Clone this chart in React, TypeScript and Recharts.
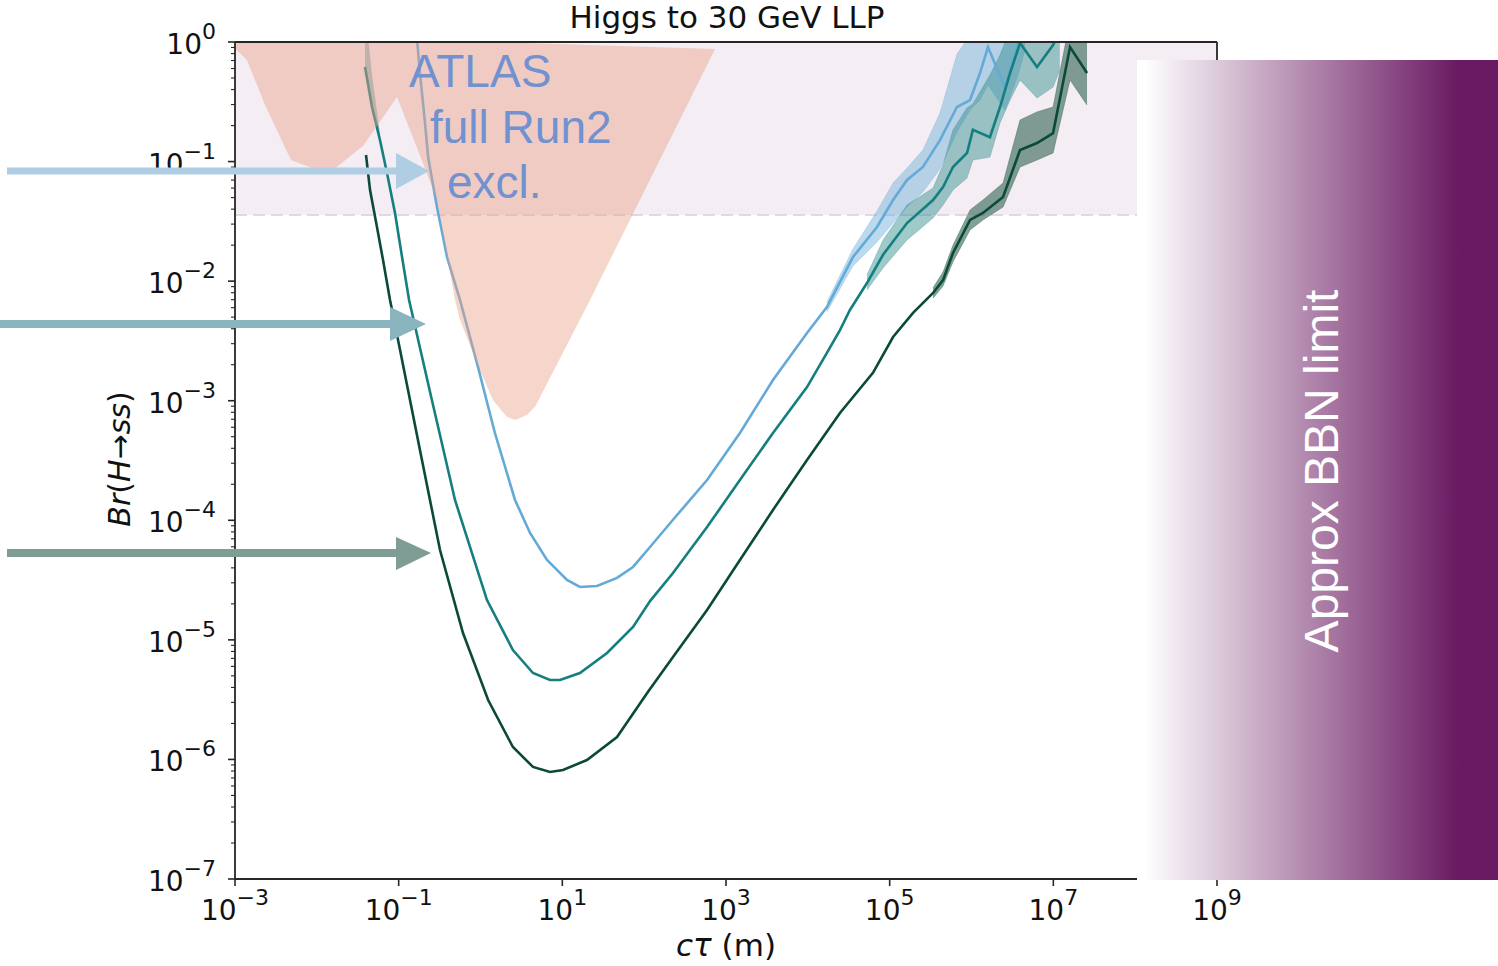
import React from 'react';
import {
  Area,
  ComposedChart,
  Line,
  ReferenceArea,
  ReferenceLine,
  XAxis,
  YAxis,
} from 'recharts';

// ATLAS full Run2 exclusion (pink region): lower outline and top edge
const atlasCtau = [6.37e-4, 1.4e-3, 2.33e-3, 4.83e-3, 0.0137, 0.0366, 0.0955, 0.198, 0.294, 0.488, 0.562, 0.906, 1.42, 2.11, 2.64, 3.7, 4.63, 21.8, 735];
const atlasLow = [1.19, 0.707, 0.297, 0.103, 0.0787, 0.135, 0.347, 0.0973, 0.0477, 6.95e-3, 4.73e-3, 2.07e-3, 1.01e-3, 7.31e-4, 6.9e-4, 7.59e-4, 8.85e-4, 6.95e-3, 0.874];
const atlasHigh = [1.19, 1.169, 1.155, 1.138, 1.112, 1.088, 1.066, 1.047, 1.039, 1.027, 1.023, 1.014, 1.004, 0.994, 0.988, 0.983, 0.977, 0.944, 0.874];

// light blue curve
const lightCtau = [0.158, 0.168, 0.182, 0.21, 0.229, 0.294, 0.39, 0.562, 0.933, 1.5, 2.64, 4.03, 6.5, 11.4, 16.4, 26.5, 46.6, 73.1, 118, 225, 587, 1480, 3750, 9770, 1.71e4, 3.56e4, 7.0e4, 1.1e5, 1.63e5, 2.55e5, 4.12e5, 6.65e5, 9.6e5, 1.27e6, 1.59e6, 2.57e6, 3.71e6, 4.51e6];
const lightBr = [1.39, 1.04, 0.55, 0.21, 0.109, 0.0417, 0.0159, 6.95e-3, 1.91e-3, 5.37e-4, 1.48e-4, 7.83e-5, 4.66e-5, 3.17e-5, 2.77e-5, 2.82e-5, 3.3e-5, 4.07e-5, 5.98e-5, 1.01e-4, 2.17e-4, 5.37e-4, 1.49e-3, 3.68e-3, 6.08e-3, 0.0159, 0.0284, 0.0477, 0.0702, 0.0901, 0.151, 0.286, 0.327, 0.55, 0.908, 0.412, 1.0, 1.53];
const lightBandCtau = [1.71e4, 3.56e4, 7.0e4, 1.1e5, 1.63e5, 2.55e5, 4.12e5, 6.65e5, 9.6e5, 1.27e6, 1.59e6, 2.57e6, 3.71e6, 4.51e6];
const lightBandLo = [5.52e-3, 0.0134, 0.0212, 0.0306, 0.0417, 0.0557, 0.0867, 0.177, 0.27, 0.327, 0.437, 0.27, 0.53, 0.857];
const lightBandHi = [6.7e-3, 0.0186, 0.0386, 0.0662, 0.0883, 0.125, 0.255, 0.794, 1.14, 1.53, 1.85, 1.85, 1.85, 2.25];

// teal curve
const tealCtau = [0.0388, 0.0472, 0.0592, 0.072, 0.0902, 0.11, 0.134, 0.255, 0.488, 1.2, 2.49, 4.38, 7.07, 9.37, 16.4, 35.2, 73.1, 118, 225, 587, 1480, 3750, 9770, 1.71e4, 2.47e4, 3.27e4, 5.28e4, 8.3e4, 1.63e5, 3.39e5, 4.49e5, 5.94e5, 8.81e5, 1.04e6, 1.68e6, 2.23e6, 2.96e6, 3.92e6, 6.32e6, 9.93e6, 1.2e7];
const tealBr = [0.618, 0.286, 0.151, 0.0802, 0.0372, 0.0159, 6.95e-3, 1.01e-3, 1.48e-4, 2.15e-5, 8.22e-6, 5.28e-6, 4.62e-6, 4.62e-6, 5.28e-6, 7.76e-6, 1.28e-5, 2.11e-5, 3.62e-5, 8.79e-5, 2.17e-4, 5.37e-4, 1.3e-3, 2.51e-3, 3.9e-3, 5.74e-3, 9.64e-3, 0.0166, 0.0306, 0.0477, 0.0613, 0.0901, 0.118, 0.184, 0.16, 0.286, 0.55, 0.98, 0.618, 0.944, 1.26];
const tealEdgeCtau = [0.0388, 0.0472, 0.0592];
const tealEdgeLo = [0.618, 0.286, 0.151];
const tealEdgeHi = [2.0, 0.53, 0.17];
const tealBandCtau = [5.28e4, 8.3e4, 1.63e5, 3.39e5, 4.49e5, 5.94e5, 8.81e5, 1.04e6, 1.68e6, 2.23e6, 2.96e6, 3.92e6, 6.32e6, 9.93e6, 1.2e7];
const tealBandLo = [8.43e-3, 0.0129, 0.0221, 0.0337, 0.0433, 0.0578, 0.0729, 0.103, 0.109, 0.21, 0.327, 0.481, 0.34, 0.42, 0.583];
const tealBandHi = [0.01125, 0.0221, 0.0433, 0.0601, 0.0936, 0.184, 0.281, 0.303, 0.53, 0.778, 1.26, 1.85, 1.85, 1.85, 2.25];

// dark green curve
const darkCtau = [0.0399, 0.0447, 0.0543, 0.0644, 0.0784, 0.104, 0.182, 0.32, 0.611, 1.24, 2.49, 4.38, 7.07, 10.2, 20.0, 46.6, 111, 225, 587, 1480, 3750, 9770, 2.47e4, 6.25e4, 1.1e5, 1.93e5, 3.39e5, 4.49e5, 5.94e5, 9.6e5, 1.38e6, 2.43e6, 3.92e6, 6.32e6, 9.93e6, 1.6e7, 2.58e7];
const darkBr = [0.1135, 0.0578, 0.0284, 0.015, 6.95e-3, 2.65e-3, 3.87e-4, 5.64e-5, 1.14e-5, 3.14e-6, 1.27e-6, 8.65e-7, 7.85e-7, 8.16e-7, 9.89e-7, 1.54e-6, 3.66e-6, 7.19e-6, 1.78e-5, 4.66e-5, 1.22e-4, 3.19e-4, 7.89e-4, 1.71e-3, 3.41e-3, 5.42e-3, 7.96e-3, 0.0102, 0.0172, 0.0325, 0.0372, 0.0506, 0.125, 0.143, 0.173, 0.908, 0.551];
const darkBandCtau = [3.39e5, 4.49e5, 5.94e5, 9.6e5, 1.38e6, 2.43e6, 3.92e6, 6.32e6, 9.93e6, 1.6e7, 2.58e7];
const darkBandLo = [7.2e-3, 9.1e-3, 0.0145, 0.0268, 0.0325, 0.0417, 0.0901, 0.103, 0.118, 0.481, 0.297];
const darkBandHi = [8.8e-3, 0.0119, 0.02, 0.0394, 0.0477, 0.0662, 0.223, 0.26, 0.286, 1.53, 1.53];

const bbnBr = 0.0357;

const xTicks = [1e-3, 1e-1, 1e1, 1e3, 1e5, 1e7, 1e9];
const yMajor = [1e-7, 1e-6, 1e-5, 1e-4, 1e-3, 1e-2, 1e-1, 1];
const minorSteps = [2, 3, 4, 5, 6, 7, 8, 9];
const yTicks = [
  ...yMajor,
  ...yMajor.slice(0, -1).flatMap((d) => minorSteps.map((m) => m * d)),
].sort((a, b) => a - b);

const toLine = (xs: number[], ys: number[]) => xs.map((x, i) => ({ x, y: ys[i] }));
const toBand = (xs: number[], lo: number[], hi: number[]) =>
  xs.map((x, i) => ({ x, range: [lo[i], hi[i]] }));

const FONT = 'DejaVu Sans';
const AXIS = '#262626';

function expOf(v: number) {
  const e = Math.round(Math.log10(v));
  return e < 0 ? `\u2212${-e}` : `${e}`;
}

function YTick({ x, y, payload }: any) {
  const v = payload.value;
  const l = Math.log10(v);
  const major = Math.abs(l - Math.round(l)) < 1e-6;
  return (
    <g>
      <line x1={x} x2={x - (major ? 7 : 4)} y1={y} y2={y} stroke={AXIS} strokeWidth={major ? 1.6 : 1.1} />
      {major && (
        <text x={x - 19} y={y + 12} textAnchor="end" fontFamily={FONT} fontSize={28} fill="#111">
          10<tspan dy={-15} fontSize={22}>{expOf(v)}</tspan>
        </text>
      )}
    </g>
  );
}

function XTick({ x, y, payload }: any) {
  return (
    <g>
      <line x1={x} x2={x} y1={y} y2={y + 7} stroke={AXIS} strokeWidth={1.6} />
      <text x={x} y={y + 41} textAnchor="middle" fontFamily={FONT} fontSize={28} fill="#111">
        10<tspan dy={-15} fontSize={22}>{expOf(payload.value)}</tspan>
      </text>
    </g>
  );
}

export default function App() {
  return (
    <div style={{ position: 'absolute', left: 0, top: 0, width: 1498, height: 966, background: '#fff', overflow: 'hidden' }}>
      <ComposedChart width={1498} height={966} margin={{ top: 42, right: 281, bottom: 27, left: 135 }}>
        <XAxis
          type="number"
          dataKey="x"
          scale="log"
          domain={[1e-3, 1e9]}
          allowDataOverflow
          ticks={xTicks}
          interval={0}
          height={60}
          tickSize={0}
          tickMargin={0}
          tickLine={false}
          tick={<XTick />}
          axisLine={{ stroke: AXIS, strokeWidth: 1.8 }}
        />
        <YAxis
          type="number"
          scale="log"
          domain={[1e-7, 1]}
          allowDataOverflow
          ticks={yTicks}
          interval={0}
          width={100}
          tickSize={0}
          tickMargin={0}
          tickLine={false}
          tick={<YTick />}
          axisLine={{ stroke: AXIS, strokeWidth: 1.8 }}
        />
        <ReferenceArea y1={bbnBr} y2={1} x1={1e-3} x2={1e9} fill="#f4edf3" fillOpacity={1} stroke="none" zIndex={-50} />
        <ReferenceLine y={bbnBr} stroke="#e2d6eb" strokeWidth={2} strokeDasharray="12 6" zIndex={-40} />

        <Area data={toBand(lightBandCtau, lightBandLo, lightBandHi)} dataKey="range" type="linear" fill="#6aaed6" fillOpacity={0.45} stroke="#6aaed6" strokeOpacity={0.3} strokeWidth={1} isAnimationActive={false} zIndex={100} />
        <Area data={toBand(tealEdgeCtau, tealEdgeLo, tealEdgeHi)} dataKey="range" type="linear" fill="#2b8a8a" fillOpacity={0.45} stroke="none" isAnimationActive={false} zIndex={100} />
        <Area data={toBand(tealBandCtau, tealBandLo, tealBandHi)} dataKey="range" type="linear" fill="#2b8a8a" fillOpacity={0.45} stroke="#2b8a8a" strokeOpacity={0.3} strokeWidth={1} isAnimationActive={false} zIndex={100} />
        <Area data={toBand(darkBandCtau, darkBandLo, darkBandHi)} dataKey="range" type="linear" fill="#2f6352" fillOpacity={0.6} stroke="#2f6352" strokeOpacity={0.4} strokeWidth={1} isAnimationActive={false} zIndex={100} />

        <Line data={toLine(lightCtau, lightBr)} dataKey="y" type="linear" stroke="#64aad6" strokeWidth={2.6} dot={false} isAnimationActive={false} zIndex={400} />
        <Line data={toLine(tealCtau, tealBr)} dataKey="y" type="linear" stroke="#157f7f" strokeWidth={2.6} dot={false} isAnimationActive={false} zIndex={400} />
        <Line data={toLine(darkCtau, darkBr)} dataKey="y" type="linear" stroke="#0b4a3b" strokeWidth={2.6} dot={false} isAnimationActive={false} zIndex={400} />

        <Area data={toBand(atlasCtau, atlasLow, atlasHigh)} dataKey="range" type="linear" fill="#eaa28c" fillOpacity={0.45} stroke="none" isAnimationActive={false} zIndex={450} />

        <ReferenceLine y={1} stroke={AXIS} strokeWidth={1.8} zIndex={500} />
        <ReferenceLine x={1e9} stroke={AXIS} strokeWidth={1.8} zIndex={500} />
      </ComposedChart>

      <svg width={1498} height={966} style={{ position: 'absolute', left: 0, top: 0, pointerEvents: 'none' }}>
        <defs>
          <linearGradient id="bbnFill" x1="0" y1="0" x2="1" y2="0">
            <stop offset="0%" stopColor="#ffffff" />
            <stop offset="2%" stopColor="#ffffff" />
            <stop offset="89%" stopColor="#6a1a62" />
            <stop offset="100%" stopColor="#6a1a62" />
          </linearGradient>
        </defs>

        <text x={727} y={28} textAnchor="middle" fontFamily={FONT} fontSize={31} fill="#111">
          Higgs to 30 GeV LLP
        </text>
        <text x={726} y={956} textAnchor="middle" fontFamily={FONT} fontSize={31} fill="#111">
          <tspan fontStyle="italic">cτ</tspan> (m)
        </text>
        <text transform="translate(130,459) rotate(-90)" textAnchor="middle" fontFamily={FONT} fontSize={30} fill="#111">
          <tspan fontStyle="italic">Br</tspan>(<tspan fontStyle="italic">H</tspan>→<tspan fontStyle="italic">ss</tspan>)
        </text>

        <g fontFamily="Liberation Sans" fontSize={46} fill="#7191cf">
          <text x={409} y={87}>ATLAS</text>
          <text x={430} y={143}>full Run2</text>
          <text x={447} y={198}>excl.</text>
        </g>

        <rect x={7} y={167.5} width={391} height={7} fill="#afcde3" />
        <polygon points="396,153 429,171 396,189" fill="#afcde3" />
        <rect x={0} y={320} width={392} height={8} fill="#8ab5bf" />
        <polygon points="390,307 426,324 390,341" fill="#8ab5bf" />
        <rect x={7} y={549} width={391} height={8} fill="#7f9c95" />
        <polygon points="396,537 431,553 396,570" fill="#7f9c95" />

        <rect x={1137} y={60} width={361} height={820} fill="url(#bbnFill)" />
        <text transform="translate(1338,471) rotate(-90)" textAnchor="middle" fontFamily="Liberation Sans" fontSize={48} fill="#ffffff">
          Approx BBN limit
        </text>
      </svg>
    </div>
  );
}
